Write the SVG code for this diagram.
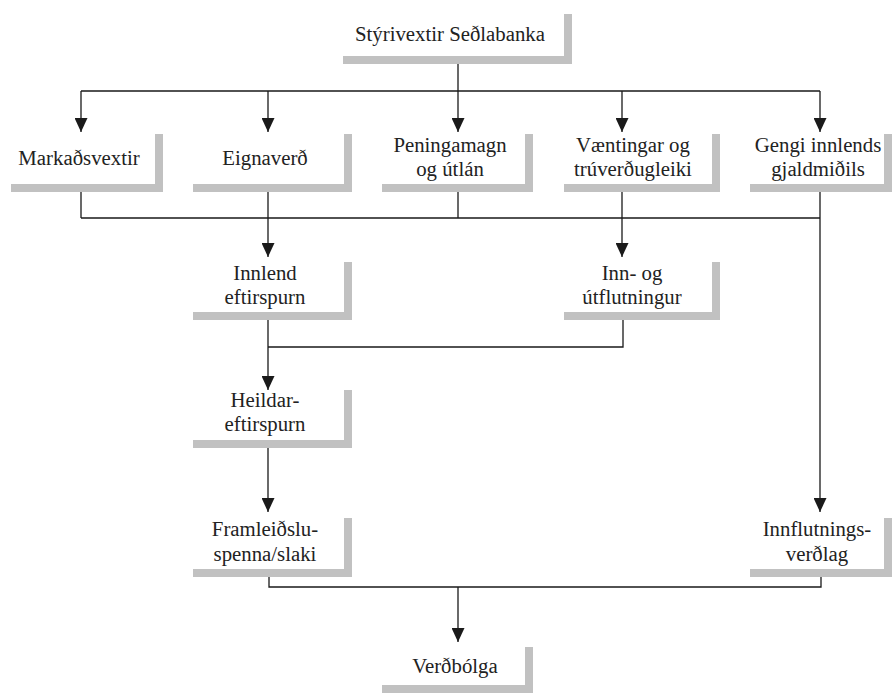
<svg xmlns="http://www.w3.org/2000/svg" width="893" height="693" viewBox="0 0 893 693">
<defs>
<marker id="arr" viewBox="0 0 14 13" refX="14" refY="6.5" markerWidth="14" markerHeight="13" markerUnits="userSpaceOnUse" orient="auto">
<path d="M0,0 L14,6.5 L0,13 z" fill="#1a1a1a"/>
</marker>
</defs>
<style>
.sh{fill:#c1c1c1}
.t{font-family:'Liberation Serif','Tinos','Times New Roman','DejaVu Serif',serif;font-size:20.8px;fill:#222;text-anchor:middle}
.c{stroke:#1a1a1a;stroke-width:1.3;fill:none}
.a{marker-end:url(#arr)}
</style>
<rect width="893" height="693" fill="#fff"/>
<g id="connectors">
<path class="c" d="M458,64 V91 M81,91 H820"/>
<path class="c a" d="M81,91 V132"/>
<path class="c a" d="M268,91 V132"/>
<path class="c a" d="M458,91 V132"/>
<path class="c a" d="M622,91 V132"/>
<path class="c a" d="M820,91 V132"/>
<path class="c" d="M81,192 V218 M458,192 V218 M81,218 H820"/>
<path class="c a" d="M268,192 V257"/>
<path class="c a" d="M622,192 V257"/>
<path class="c a" d="M820,192 V512"/>
<path class="c a" d="M268,320 V390"/>
<path class="c" d="M623,320 V347 H268"/>
<path class="c a" d="M268,448 V512"/>
<path class="c" d="M269,577 V587 H821 V577"/>
<path class="c a" d="M458,587 V642"/>
</g>
<g id="n-top">
<rect class="sh" x="564" y="14" width="8" height="50"/><rect class="sh" x="343" y="56" width="229" height="8"/>
<text class="t" x="450" y="41">Stýrivextir Seðlabanka</text>
</g>
<g id="n-markadsvextir">
<rect class="sh" x="155" y="134" width="8" height="58"/><rect class="sh" x="11" y="184" width="152" height="8"/>
<text class="t" x="79" y="165">Markaðsvextir</text>
</g>
<g id="n-eignaverd">
<rect class="sh" x="344" y="134" width="8" height="58"/><rect class="sh" x="193" y="184" width="159" height="8"/>
<text class="t" x="265" y="165">Eignaverð</text>
</g>
<g id="n-peningamagn">
<rect class="sh" x="525" y="134" width="8" height="58"/><rect class="sh" x="382" y="184" width="151" height="8"/>
<text class="t" x="450" y="152">Peningamagn</text>
<text class="t" x="450" y="176">og útlán</text>
</g>
<g id="n-vaentingar">
<rect class="sh" x="712" y="134" width="8" height="58"/><rect class="sh" x="564" y="184" width="156" height="8"/>
<text class="t" x="633" y="152">Væntingar og</text>
<text class="t" x="633" y="176">trúverðugleiki</text>
</g>
<g id="n-gengi">
<rect class="sh" x="884" y="134" width="8" height="58"/><rect class="sh" x="750" y="184" width="142" height="8"/>
<text class="t" x="818" y="152">Gengi innlends</text>
<text class="t" x="818" y="176">gjaldmiðils</text>
</g>
<g id="n-innlend">
<rect class="sh" x="344" y="262" width="8" height="58"/><rect class="sh" x="193" y="312" width="159" height="8"/>
<text class="t" x="265" y="280">Innlend</text>
<text class="t" x="265" y="304">eftirspurn</text>
</g>
<g id="n-innogut">
<rect class="sh" x="712" y="262" width="8" height="58"/><rect class="sh" x="564" y="312" width="156" height="8"/>
<text class="t" x="632" y="280">Inn- og</text>
<text class="t" x="632" y="304">útflutningur</text>
</g>
<g id="n-heildar">
<rect class="sh" x="344" y="390" width="8" height="58"/><rect class="sh" x="193" y="440" width="159" height="8"/>
<text class="t" x="265" y="407">Heildar-</text>
<text class="t" x="265" y="431">eftirspurn</text>
</g>
<g id="n-framleidslu">
<rect class="sh" x="344" y="518" width="8" height="59"/><rect class="sh" x="193" y="569" width="159" height="8"/>
<text class="t" x="265" y="536">Framleiðslu-</text>
<text class="t" x="265" y="561">spenna/slaki</text>
</g>
<g id="n-innflutnings">
<rect class="sh" x="884" y="518" width="8" height="59"/><rect class="sh" x="750" y="569" width="142" height="8"/>
<text class="t" x="817" y="536">Innflutnings-</text>
<text class="t" x="817" y="561">verðlag</text>
</g>
<g id="n-verdbolga">
<rect class="sh" x="525" y="647" width="8" height="46"/><rect class="sh" x="382" y="685" width="151" height="8"/>
<text class="t" x="455" y="673">Verðbólga</text>
</g>
</svg>
